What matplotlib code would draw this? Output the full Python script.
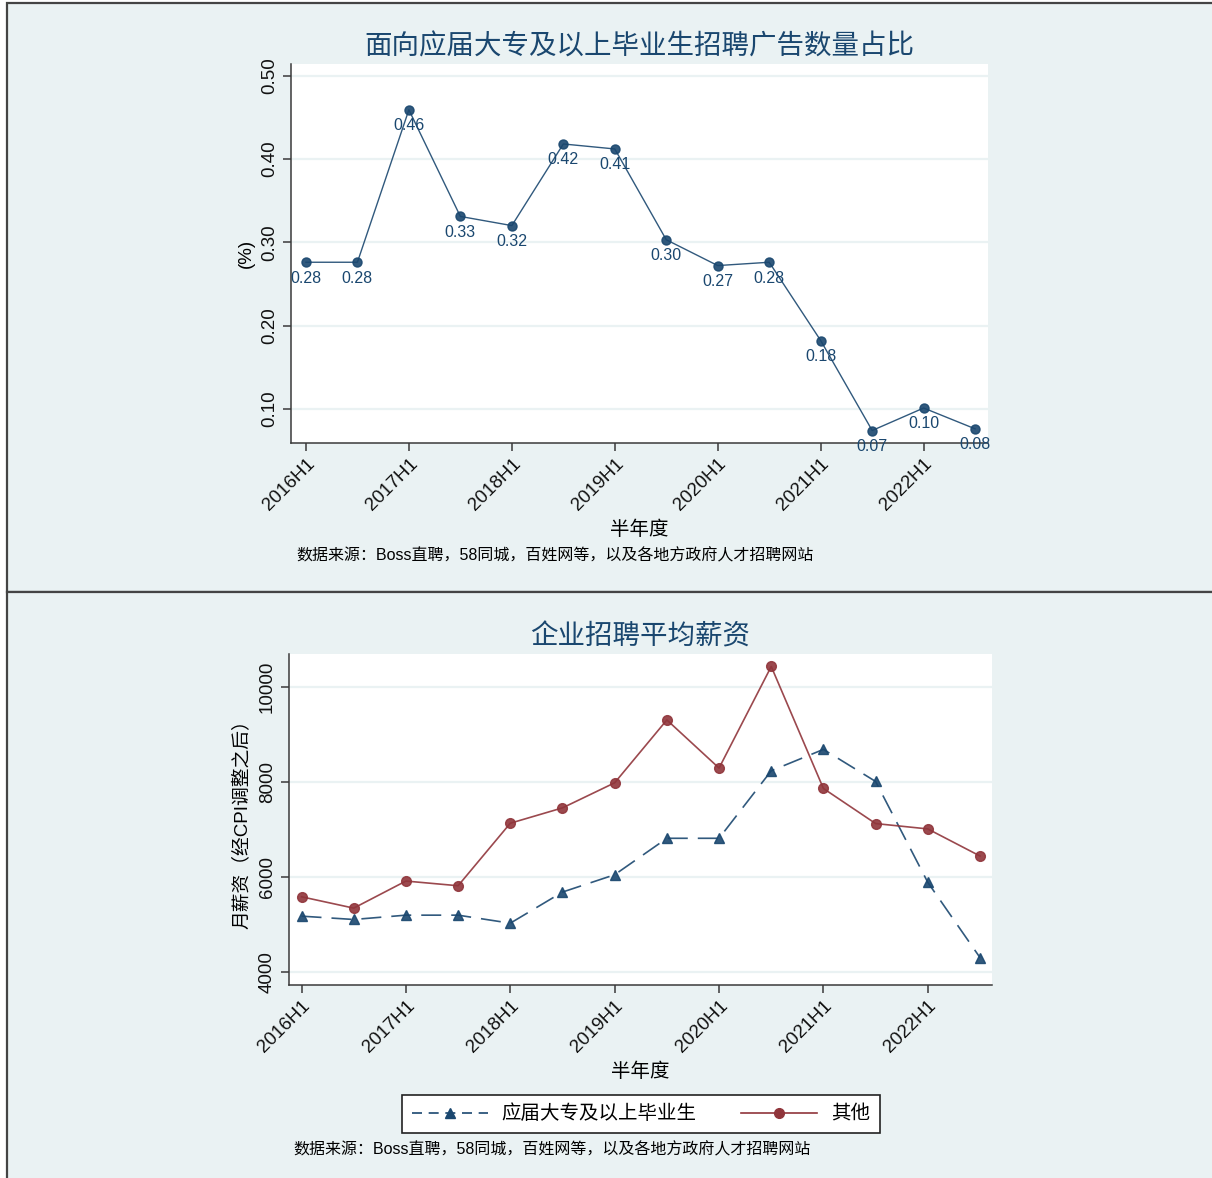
import matplotlib
matplotlib.use("Agg")
import matplotlib.pyplot as plt
from matplotlib.lines import Line2D
from matplotlib.patches import Rectangle

plt.rcParams['font.family'] = ['Liberation Sans', 'Noto Sans CJK SC', 'DejaVu Sans']
plt.rcParams['axes.unicode_minus'] = False

# half-year periods, 2016H1 .. 2022H2
periods = ['2016H1', '2016H2', '2017H1', '2017H2', '2018H1', '2018H2', '2019H1',
           '2019H2', '2020H1', '2020H2', '2021H1', '2021H2', '2022H1', '2022H2']
tick_labels = ['2016H1', '2017H1', '2018H1', '2019H1', '2020H1', '2021H1', '2022H1']

# share of ads aimed at new graduates (%)
share = [0.276, 0.276, 0.459, 0.331, 0.320, 0.418, 0.412,
         0.303, 0.272, 0.276, 0.182, 0.074, 0.101, 0.076]

# average monthly salary, CPI adjusted
salary_grad = [5167, 5097, 5188, 5188, 5019, 5674, 6039,
               6806, 6806, 8227, 8677, 8002, 5878, 4295]
salary_other = [5575, 5336, 5906, 5807, 7123, 7446, 7974,
                9297, 8284, 10422, 7854, 7116, 7003, 6433]

bg = '#EAF2F3'
navy = '#1A476F'
maroon = '#90353B'
axis_col = '#3a3a3a'
source = '数据来源：Boss直聘，58同城，百姓网等，以及各地方政府人才招聘网站'

W, H = 1212, 1178
fig = plt.figure(figsize=(W / 100, H / 100), dpi=100)
fig.patch.set_facecolor('white')

# panel backgrounds + borders
for y0, y1 in [(3, 592), (592, H + 5)]:
    fig.patches.append(Rectangle((7 / W, 1 - y1 / H), (W - 7 + 10) / W, (y1 - y0) / H,
                                 transform=fig.transFigure, facecolor=bg,
                                 edgecolor='#444444', linewidth=1.6, zorder=-10))

x = list(range(len(periods)))
xt = [periods.index(t) for t in tick_labels]


def style_axes(ax, yticks, yfmt):
    ax.set_zorder(2)
    ax.set_facecolor('white')
    for s in ['top', 'right']:
        ax.spines[s].set_visible(False)
    for s in ['left', 'bottom']:
        ax.spines[s].set_color(axis_col)
        ax.spines[s].set_linewidth(1.1)
    ax.set_xticks(xt)
    ax.set_xticklabels(tick_labels, rotation=45, ha='right', rotation_mode='anchor',
                       fontsize=13.5)
    ax.set_yticks(yticks)
    ax.set_yticklabels([yfmt(v) for v in yticks], rotation=90, va='center', fontsize=13.5)
    ax.tick_params(axis='both', direction='out', length=6, width=1.1, color=axis_col,
                   labelcolor='#111111')
    ax.tick_params(axis='x', pad=3)
    ax.grid(axis='y', color=bg, linewidth=1.6)
    ax.set_axisbelow(True)
    ax.set_xlabel('半年度', fontsize=14, labelpad=5)


# ---- top chart ----
ax1 = fig.add_axes([291 / W, 1 - 443 / H, 697 / W, 379 / H])
style_axes(ax1, [0.1, 0.2, 0.3, 0.4, 0.5], lambda v: f'{v:.2f}')
ax1.plot(x, share, color=navy, linewidth=1.0, marker='o', markersize=6.5,
         markerfacecolor=navy, markeredgecolor=navy, alpha=0.9)
for xi, v in zip(x, share):
    ax1.annotate(f'{v:.2f}', (xi, v), xytext=(0, -6), textcoords='offset points',
                 ha='center', va='top', fontsize=11.5, color=navy)
ax1.set_xlim(-0.29, 13.25)
ax1.set_ylim(0.059, 0.514)
ax1.set_ylabel('(%)', fontsize=13.5, labelpad=4)
ax1.set_title('面向应届大专及以上毕业生招聘广告数量占比', fontsize=19.8, color=navy, pad=7)
fig.text(296 / W, 1 - 556 / H, source, fontsize=11.5, va='center', ha='left')

# ---- bottom chart ----
ax2 = fig.add_axes([289 / W, 1 - 985 / H, 703 / W, 331 / H])
style_axes(ax2, [4000, 6000, 8000, 10000], lambda v: f'{v:d}')
ax2.plot(x, salary_grad, color=navy, linewidth=1.2, linestyle=(0, (12, 6)),
         marker='^', markersize=7, markerfacecolor=navy, markeredgecolor=navy, alpha=0.9)
ax2.plot(x, salary_other, color=maroon, linewidth=1.2, marker='o', markersize=7,
         markerfacecolor=maroon, markeredgecolor=maroon, alpha=0.9)
ax2.set_xlim(-0.24, 13.23)
ax2.set_ylim(3718, 10685)
ax2.set_ylabel('月薪资（经CPI调整之后）', fontsize=13.5, labelpad=6)
ax2.set_title('企业招聘平均薪资', fontsize=19.8, color=navy, pad=7)

handles = [Line2D([], [], color=navy, linewidth=1.2, linestyle=(0, (6, 4)), marker='^',
                  markersize=7, markerfacecolor=navy, markeredgecolor=navy),
           Line2D([], [], color=maroon, linewidth=1.2, marker='o', markersize=7,
                  markerfacecolor=maroon, markeredgecolor=maroon)]
leg = fig.legend(handles, ['应届大专及以上毕业生', '其他'], loc='center',
                 bbox_to_anchor=(641 / W, 1 - 1114 / H), ncol=2, fontsize=14,
                 frameon=True, fancybox=False, edgecolor='#222222', handlelength=3.9,
                 columnspacing=2.3, borderpad=0.5, handletextpad=0.7, framealpha=1)
leg.get_frame().set_linewidth(1.2)
fig.text(293 / W, 1 - 1150 / H, source, fontsize=11.5, va='center', ha='left')

fig.savefig('out.png', dpi=100, facecolor=fig.get_facecolor())
